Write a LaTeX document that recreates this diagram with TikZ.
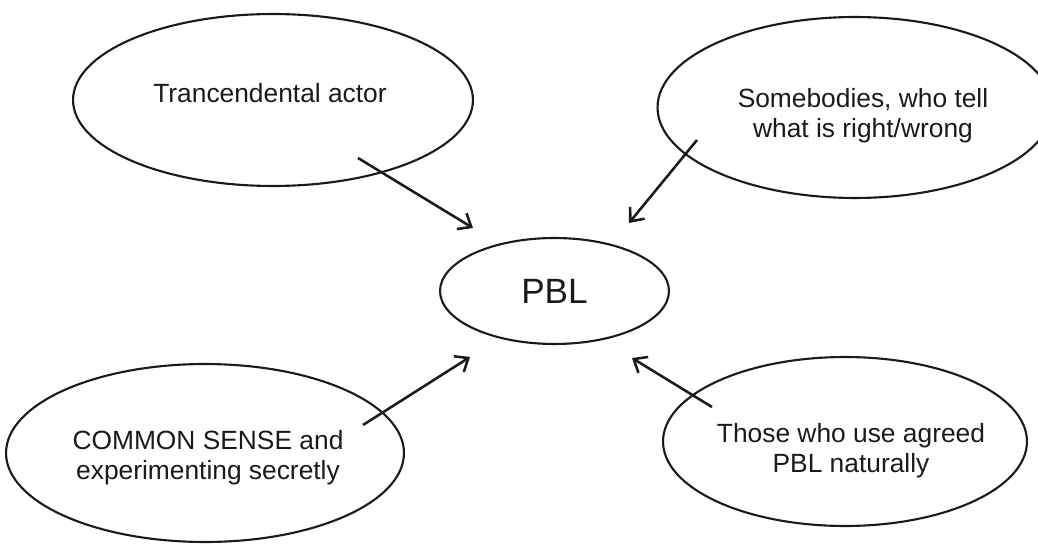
\documentclass[tikz,border=0pt]{standalone}
\usepackage{fontspec}
\setmainfont{Liberation Sans}
\usetikzlibrary{shapes.geometric,arrows.meta}
\definecolor{ink}{HTML}{1A1A1A}
\begin{document}
\begin{tikzpicture}[x=0.02cm,y=-0.02cm,
  bubble/.style={draw=ink, line width=1.2pt, ellipse, inner sep=0pt, outer sep=0pt},
  lbl/.style={text=ink, font=\fontsize{15pt}{17pt}\selectfont, align=center, inner sep=0pt},
  link/.style={draw=ink, line width=1.45pt, -{Straight Barb[length=6.4pt,width=10.6pt]}}]
\useasboundingbox (0,0) rectangle (1038,544);
% ellipses
\node[bubble, minimum width=8cm, minimum height=3.44cm] (tl) at (273,100) {};
\node[bubble, minimum width=7.9cm, minimum height=3.62cm] (tr) at (855,107.5) {};
\node[bubble, minimum width=4.58cm, minimum height=2.12cm, text=ink,
      font=\fontsize{20pt}{22pt}\selectfont] (pbl) at (554.5,291) {PBL};
\node[bubble, minimum width=7.96cm, minimum height=3.56cm] (bl) at (205,453) {};
\node[bubble, minimum width=7.28cm, minimum height=3.38cm] (br) at (845,441.5) {};
% texts
\node[lbl] (tltext) at (270,92.8) {Trancendental actor};
\node[lbl] (trtext) at (863,115.7) {Somebodies, who tell\\what is right/wrong};
\node[lbl] (bltext) at (208,458) {COMMON SENSE and\\experimenting secretly};
\node[lbl] (brtext) at (851,450.4) {Those who use agreed\\PBL naturally};
% arrow ends
\coordinate (s1) at (358,158); \coordinate (e1) at (473,228);
\coordinate (s2) at (697,140); \coordinate (e2) at (629,223);
\coordinate (s3) at (363,425); \coordinate (e3) at (470,357);
\coordinate (s4) at (712,407); \coordinate (e4) at (632,358);
\draw[link] (s1) -- (e1);
\draw[link] (s2) -- (e2);
\draw[link] (s3) -- (e3);
\draw[link] (s4) -- (e4);
\end{tikzpicture}
\end{document}
